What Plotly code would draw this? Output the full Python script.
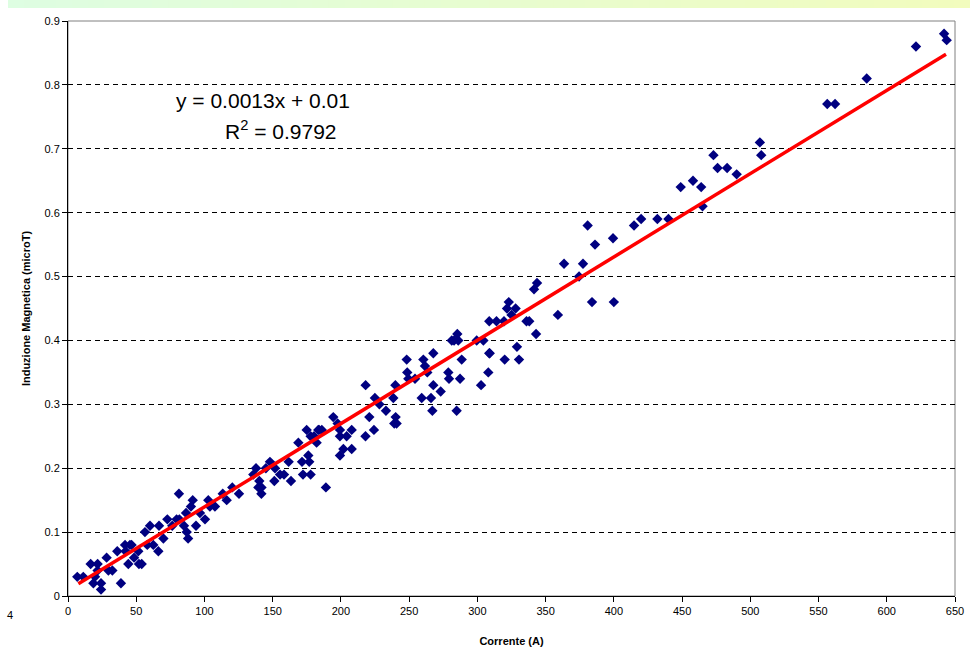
import plotly.graph_objects as go

# ---- data ----
corrente = [6.8, 11.2, 16.6, 18.6, 19.8, 21.7, 21.7, 24.2, 24.2, 28.3, 29.6, 32.5, 36.1, 38.8,
            41.8, 42.2, 44.2, 45.4, 46.6, 48.4, 51.5, 52.0, 54.0, 56.4, 58.1, 60.1, 62.5, 66.2,
            66.7, 69.9, 72.8, 76.4, 79.6, 81.3, 81.6, 85.0, 86.5, 87.0, 88.0, 90.1, 91.4, 93.8,
            96.7, 100.4, 102.8, 104.0, 107.7, 113.4, 116.3, 120.4, 125.3, 135.8, 137.8, 139.5,
            140.2, 141.7, 141.8, 145.0, 148.0, 151.2, 151.7, 155.4, 158.3, 161.7, 163.4, 168.8,
            171.5, 172.2, 174.9, 176.1, 176.8, 177.8, 177.8, 180.3, 182.2, 183.4, 184.0, 186.0,
            189.0, 194.4, 197.6, 199.3, 199.3, 199.3, 201.8, 204.2, 207.9, 207.9, 218.0, 218.1,
            220.8, 224.2, 224.9, 228.2, 233.0, 238.4, 239.1, 239.9, 240.1, 240.8, 248.2, 248.6,
            249.4, 254.3, 259.2, 260.4, 261.6, 263.3, 266.0, 267.0, 267.7, 267.7, 273.1, 278.7,
            279.2, 281.2, 282.9, 284.8, 285.3, 286.0, 287.3, 288.5, 299.5, 302.7, 304.4, 308.0,
            308.7, 308.7, 309.0, 314.0, 319.5, 320.0, 321.7, 323.0, 325.0, 328.0, 329.0, 330.5,
            336.0, 338.0, 341.5, 343.0, 343.7, 359.0, 363.5, 374.5, 377.4, 380.8, 384.0, 386.2,
            399.4, 400.0, 414.8, 420.0, 431.9, 440.0, 449.0, 458.0, 464.0, 465.0, 473.0, 476.0,
            483.0, 490.0, 507.0, 508.0, 556.4, 562.1, 585.3, 621.4, 642.0, 643.9]
induzione = [0.03, 0.03, 0.05, 0.02, 0.03, 0.05, 0.04, 0.02, 0.01, 0.06, 0.04, 0.04, 0.07, 0.02,
             0.08, 0.07, 0.05, 0.08, 0.08, 0.06, 0.07, 0.05, 0.05, 0.10, 0.08, 0.11, 0.08, 0.07,
             0.11, 0.09, 0.12, 0.11, 0.12, 0.16, 0.12, 0.11, 0.13, 0.10, 0.09, 0.14, 0.15, 0.11,
             0.13, 0.12, 0.15, 0.14, 0.14, 0.16, 0.15, 0.17, 0.16, 0.19, 0.20, 0.17,
             0.18, 0.16, 0.17, 0.20, 0.21, 0.18, 0.20, 0.19, 0.19, 0.21, 0.18, 0.24,
             0.21, 0.19, 0.26, 0.22, 0.21, 0.19, 0.25, 0.25, 0.24, 0.26, 0.26, 0.26,
             0.17, 0.28, 0.27, 0.26, 0.25, 0.22, 0.23, 0.25, 0.26, 0.23, 0.25, 0.33,
             0.28, 0.26, 0.31, 0.30, 0.29, 0.31, 0.27, 0.33, 0.28, 0.27, 0.37, 0.35,
             0.34, 0.34, 0.31, 0.37, 0.36, 0.35, 0.31, 0.29, 0.38, 0.33, 0.32, 0.35,
             0.34, 0.40, 0.40, 0.29, 0.41, 0.40, 0.34, 0.37, 0.40, 0.33, 0.40, 0.35,
             0.38, 0.43, 0.38, 0.43, 0.43, 0.37, 0.45, 0.46, 0.44, 0.45, 0.39, 0.37,
             0.43, 0.43, 0.48, 0.41, 0.49, 0.44, 0.52, 0.50, 0.52, 0.58, 0.46, 0.55,
             0.56, 0.46, 0.58, 0.59, 0.59, 0.59, 0.64, 0.65, 0.64, 0.61, 0.69, 0.67,
             0.67, 0.66, 0.71, 0.69, 0.77, 0.77, 0.81, 0.86, 0.88, 0.87]

trend_x = [7.6, 643.4]
trend_y = [0.019, 0.848]

equation_text = "y = 0.0013x + 0.01"
r2_text = "R<sup>2</sup> = 0.9792"

x_ticks = [0, 50, 100, 150, 200, 250, 300, 350, 400, 450, 500, 550, 600, 650]
y_ticks = [0, 0.1, 0.2, 0.3, 0.4, 0.5, 0.6, 0.7, 0.8, 0.9]

x_title = "Corrente (A)"
y_title = "Induzione Magnetica (microT)"

FONT = "Liberation Sans, Arial, sans-serif"

W, H = 970, 651
ML, MR, MT, MB = 68, 15, 21, 55
PW, PH = W - ML - MR, H - MT - MB


def px_x(px):
    return (px - ML) / PW


def px_y(py):
    return (H - MB - py) / PH


fig = go.Figure()
fig.add_trace(go.Scatter(
    x=corrente, y=induzione, mode="markers",
    marker=dict(symbol="diamond", color="#000080", size=8, line=dict(width=0)),
    showlegend=False, hoverinfo="x+y"))
fig.add_trace(go.Scatter(
    x=trend_x, y=trend_y, mode="lines",
    line=dict(color="#ff0000", width=3.5),
    showlegend=False, hoverinfo="skip"))

# green gradient band at the very top (decorative)
shapes = []
n = 60
for i in range(n):
    t = i / (n - 1)
    r = int(222 + (242 - 222) * t)
    g = int(254 + (252 - 254) * t)
    b = int(226 + (190 - 226) * t)
    a0 = 8 + (W - 8) * i / n
    a1 = 8 + (W - 8) * (i + 1) / n + 1
    shapes.append(dict(type="rect", xref="paper", yref="paper",
                       x0=px_x(a0), x1=px_x(a1), y0=px_y(8), y1=px_y(0),
                       fillcolor=f"rgb({r},{g},{b})", line=dict(width=0), layer="below"))
# plot area border (gray)
shapes.append(dict(type="rect", xref="paper", yref="paper", x0=0, x1=1, y0=0, y1=1,
                   line=dict(color="#808080", width=1), layer="below"))

fig.update_layout(
    width=W, height=H,
    margin=dict(l=ML, r=MR, t=MT, b=MB, autoexpand=False),
    paper_bgcolor="white", plot_bgcolor="white",
    font=dict(family=FONT, size=11, color="black"),
    shapes=shapes,
    xaxis=dict(range=[0, 650], tickvals=x_ticks, ticks="outside", ticklen=5, tickcolor="black",
               showline=True, linecolor="black", linewidth=1, showgrid=False, zeroline=False,
               tickfont=dict(size=11), automargin=False,
               title=dict(text=f"<b>{x_title}</b>", font=dict(size=11), standoff=21)),
    yaxis=dict(range=[0, 0.9], tickvals=y_ticks, ticktext=[f"{v:g}" for v in y_ticks],
               ticks="outside", ticklen=5, tickcolor="black",
               showline=True, linecolor="black", linewidth=1, zeroline=False,
               showgrid=True, gridcolor="black", gridwidth=1, griddash="5px,4px",
               tickfont=dict(size=11), automargin=False,
               title=dict(text=f"<b>{y_title}</b>", font=dict(size=11), standoff=11)),
    annotations=[
        dict(x=142.9, y=0.776, xref="x", yref="y", text=equation_text, showarrow=False,
             font=dict(size=21, family=FONT), xanchor="center", yanchor="middle"),
        dict(x=156, y=0.729, xref="x", yref="y", text=r2_text, showarrow=False,
             font=dict(size=21, family=FONT), xanchor="center", yanchor="middle"),
        dict(x=px_x(10), y=px_y(615), xref="paper", yref="paper", text="4",
             showarrow=False, font=dict(size=11, family=FONT), xanchor="center", yanchor="middle"),
    ],
)

fig.write_html("out.html", config={"displayModeBar": False},
               post_script="document.body.style.margin='0px';document.body.style.overflow='hidden';")
